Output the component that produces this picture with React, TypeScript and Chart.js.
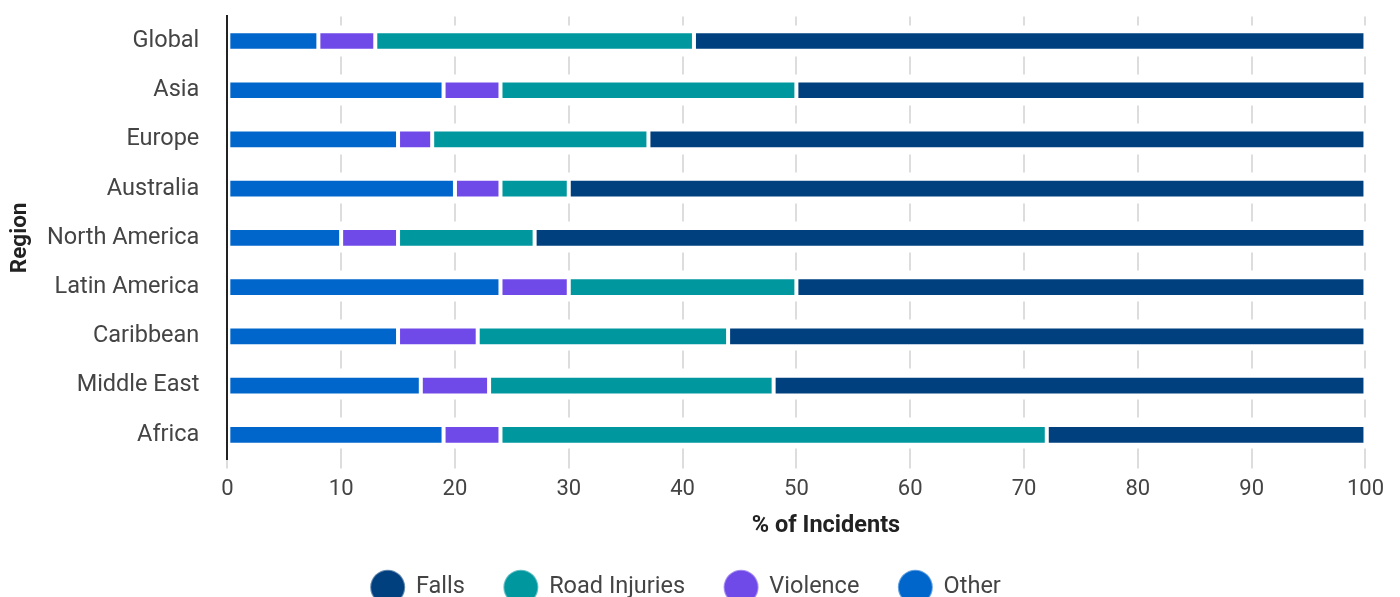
import React, { useEffect, useRef } from "react";
import { Chart, registerables } from "chart.js";

Chart.register(...registerables);

const categories = [
  "Global",
  "Asia",
  "Europe",
  "Australia",
  "North America",
  "Latin America",
  "Caribbean",
  "Middle East",
  "Africa",
];
const otherValues = [8, 19, 15, 20, 10, 24, 15, 17, 19];
const violenceValues = [5, 5, 3, 4, 5, 6, 7, 6, 5];
const roadValues = [28, 26, 19, 6, 12, 20, 22, 25, 48];
const fallsValues = [59, 50, 63, 70, 73, 50, 56, 52, 28];
const xTicks = [0, 10, 20, 30, 40, 50, 60, 70, 80, 90, 100];
const xTitle = "% of Incidents";
const yTitle = "Region";

const FONT = "Roboto";
const X_TITLE_BLOCK = 25.2;

const legendShift = {
  id: "legendShift",
  afterUpdate(chart: any) {
    const l = chart.legend;
    if (l) {
      l.left -= 14;
      l.right -= 14;
    }
  },
};

const xTitlePlugin = {
  id: "xTitlePlugin",
  afterDraw(chart: any) {
    const sx = chart.scales.x;
    if (!sx) return;
    const ctx = chart.ctx;
    ctx.save();
    ctx.font = `bold 23.5px ${FONT}`;
    ctx.fillStyle = "#222222";
    ctx.textAlign = "center";
    ctx.textBaseline = "middle";
    ctx.fillText(xTitle, sx.getPixelForValue(52.6), sx.bottom - 9.6);
    ctx.restore();
  },
};

export default function App() {
  const ref = useRef<HTMLCanvasElement | null>(null);

  useEffect(() => {
    let chart: Chart | null = null;
    let cancelled = false;
    const fontsReady = Promise.all([
      document.fonts.load(`22px ${FONT}`),
      document.fonts.load(`bold 22px ${FONT}`),
    ]).catch(() => null);
    fontsReady.then(() => {
      if (cancelled || !ref.current) return;
      chart = new Chart(ref.current, {
        type: "bar",
        data: {
          labels: categories,
          datasets: [
            { label: "Other", data: otherValues, backgroundColor: "#0066cc" },
            { label: "Violence", data: violenceValues, backgroundColor: "#704ae8" },
            { label: "Road Injuries", data: roadValues, backgroundColor: "#00979f" },
            { label: "Falls", data: fallsValues, backgroundColor: "#00407f" },
          ].map((d) => ({
            ...d,
            borderColor: "#ffffff",
            borderWidth: 2,
            borderSkipped: false,
            barPercentage: 0.5,
            categoryPercentage: 0.8,
          })),
        },
        options: {
          indexAxis: "y",
          animation: false,
          responsive: true,
          maintainAspectRatio: false,
          layout: { padding: { top: 8.4, right: 0, left: 0, bottom: 0 } },
          scales: {
            x: {
              stacked: true,
              min: 0,
              max: 100,
              afterBuildTicks: (axis: any) => {
                axis.ticks = xTicks.map((v) => ({ value: v }));
              },
              afterFit: (scale: any) => {
                scale.height += X_TITLE_BLOCK;
              },
              grid: {
                color: "#dddddd",
                lineWidth: 2,
                tickLength: 9,
                tickColor: "#dddddd",
                tickWidth: 2,
              },
              border: { display: false, dash: [18, 31.02], dashOffset: 9 },
              ticks: {
                color: "#444444",
                padding: 8,
                font: { family: FONT, size: 22 },
              },
              title: { display: false },
            },
            y: {
              stacked: true,
              afterFit: (scale: any) => {
                scale.paddingTop = 0;
                scale.paddingBottom = 0;
              },
              grid: { display: false, drawTicks: false },
              border: { display: true, color: "#222222", width: 2 },
              ticks: {
                color: "#444444",
                padding: 28,
                font: { family: FONT, size: 23.5 },
              },
              title: {
                display: true,
                text: yTitle,
                color: "#222222",
                font: { family: FONT, size: 22.5, weight: "bold" },
                padding: { top: -1, bottom: -15 },
              },
            },
          },
          plugins: {
            legend: {
              position: "bottom",
              reverse: true,
              labels: {
                usePointStyle: true,
                pointStyle: "circle",
                pointStyleWidth: 33,
                color: "#444444",
                font: { family: FONT, size: 23.5 },
                padding: 39.5,
                generateLabels: (c: any) =>
                  Chart.defaults.plugins.legend.labels
                    .generateLabels(c)
                    .map((item: any) => ({
                      ...item,
                      strokeStyle: String(item.fillStyle) + "99",
                      lineWidth: 2,
                    })),
              },
            },
            tooltip: { enabled: false },
          },
        },
        plugins: [legendShift, xTitlePlugin],
      });
    });
    return () => {
      cancelled = true;
      if (chart) chart.destroy();
    };
  }, []);

  return (
    <div style={{ position: "relative", width: "100%", height: 601 }}>
      <canvas ref={ref} />
    </div>
  );
}
